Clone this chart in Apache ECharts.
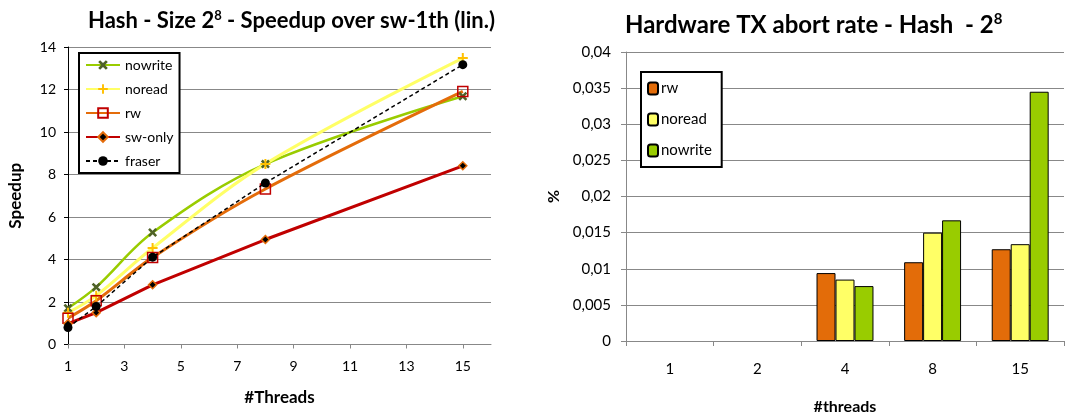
<!DOCTYPE html>
<html>
<head>
<meta charset="utf-8">
<script src="https://cdn.jsdelivr.net/npm/echarts@6/dist/echarts.min.js"></script>
<style>
  html, body { margin: 0; padding: 0; background: #fff; }
  #chart { width: 1084px; height: 414px; }
</style>
</head>
<body>
<div id="chart"></div>
<script>
// speedup chart (left)
var threads = [1, 2, 4, 8, 15];
var nowrite = [1.71, 2.70, 5.27, 8.49, 11.68];
var noread = [1.50, 2.30, 4.54, 8.50, 13.48];
var rw = [1.24, 2.06, 4.10, 7.32, 11.91];
var swOnly = [0.98, 1.50, 2.81, 4.94, 8.41];
var fraser = [0.80, 1.79, 4.11, 7.60, 13.17];

// abort rate chart (right)
var threadCats = ['1', '2', '4', '8', '15'];
var abortRw = [0, 0, 0.0094, 0.0109, 0.0127];
var abortNoread = [0, 0, 0.0085, 0.0150, 0.0134];
var abortNowrite = [0, 0, 0.0076, 0.0167, 0.0345];

var FONT = 'Lato';

function pairs(ys) {
    return threads.map(function (t, i) { return [t, ys[i]]; });
}
// zero-height bars draw nothing in the original
function bars(vals) {
    return vals.map(function (v) { return v === 0 ? '-' : v; });
}

var xPath = 'path://M0,2 L2,0 L5,3 L8,0 L10,2 L7,5 L10,8 L8,10 L5,7 L2,10 L0,8 L3,5 Z';
var plusPath = 'path://M4,0 H6 V4 H10 V6 H6 V10 H4 V6 H0 V4 H4 Z';

var option = {
    animation: false,
    textStyle: { fontFamily: FONT },
    title: [{
        text: '{a|Hash - Size 2}{s|8}{a| - Speedup over sw-1th (lin.)}',
        left: 83, top: 4,
        textStyle: {
            rich: {
                a: { fontFamily: FONT, fontWeight: 'bold', fontSize: 22, color: '#000' },
                s: { fontFamily: FONT, fontWeight: 'bold', fontSize: 13, color: '#000', verticalAlign: 'top', padding: [0, 0, 10, 0] }
            }
        }
    }, {
        text: '{a|Hardware TX abort rate - Hash  - 2}{s|8}',
        left: 620, top: 7,
        textStyle: {
            rich: {
                a: { fontFamily: FONT, fontWeight: 'bold', fontSize: 24, color: '#000' },
                s: { fontFamily: FONT, fontWeight: 'bold', fontSize: 15, color: '#000', verticalAlign: 'top', padding: [0, 0, 12, 0] }
            }
        }
    }],
    legend: [{
        data: ['nowrite', 'noread', 'rw', 'sw-only', 'fraser'],
        orient: 'vertical',
        left: 79, top: 53,
        itemWidth: 34, itemHeight: 12,
        itemGap: 10,
        padding: [5, 6, 5, 6],
        borderColor: '#000', borderWidth: 2,
        backgroundColor: '#fff',
        textStyle: { fontFamily: FONT, fontSize: 14, color: '#000' }
    }, {
        data: ['rw ', 'noread ', 'nowrite '],
        orient: 'vertical',
        left: 641, top: 72,
        itemWidth: 10, itemHeight: 12,
        itemGap: 16,
        padding: [9, 6, 9, 6],
        borderColor: '#000', borderWidth: 2,
        backgroundColor: '#fff',
        textStyle: { fontFamily: FONT, fontSize: 15, color: '#000', padding: [0, 0, 0, -2] }
    }],
    grid: [
        { left: 68, top: 47, width: 423, height: 297.5, outerBoundsMode: 'none' },
        { left: 626, top: 52, width: 438, height: 289, outerBoundsMode: 'none' }
    ],
    xAxis: [{
        gridIndex: 0,
        type: 'value',
        min: 1, max: 16, interval: 2,
        name: '#Threads',
        nameLocation: 'middle', nameGap: 45,
        nameTextStyle: { fontFamily: FONT, fontWeight: 'bold', fontSize: 17, color: '#000' },
        axisLine: { lineStyle: { color: '#888' } },
        axisTick: { show: true, length: 4, lineStyle: { color: '#888' } },
        axisLabel: { color: '#000', fontSize: 14, margin: 15, showMaxLabel: false },
        splitLine: { show: false }
    }, {
        gridIndex: 1,
        type: 'category',
        data: threadCats,
        name: '#threads',
        nameLocation: 'middle', nameGap: 58,
        nameTextStyle: { fontFamily: FONT, fontWeight: 'bold', fontSize: 16, color: '#000' },
        axisLine: { lineStyle: { color: '#888' } },
        axisTick: { show: true, length: 5, lineStyle: { color: '#888' } },
        axisLabel: { color: '#000', fontSize: 15, margin: 21 }
    }],
    yAxis: [{
        gridIndex: 0,
        type: 'value',
        min: 0, max: 14, interval: 2,
        name: 'Speedup',
        nameLocation: 'middle', nameGap: 44,
        nameTextStyle: { fontFamily: FONT, fontWeight: 'bold', fontSize: 17, color: '#000' },
        axisLine: { show: true, lineStyle: { color: '#000' } },
        axisTick: { show: true, length: 4, lineStyle: { color: '#000' } },
        axisLabel: { color: '#000', fontSize: 14, margin: 12 },
        splitLine: { lineStyle: { color: '#888' } }
    }, {
        gridIndex: 1,
        type: 'value',
        min: 0, max: 0.04, interval: 0.005,
        name: '%',
        nameLocation: 'middle', nameGap: 64,
        nameTextStyle: { fontFamily: FONT, fontWeight: 'bold', fontSize: 16, color: '#000' },
        axisLine: { show: true, lineStyle: { color: '#888' } },
        axisTick: { show: true, length: 5, lineStyle: { color: '#888' } },
        axisLabel: {
            color: '#000', fontSize: 15, margin: 15,
            formatter: function (v) { return String(+v.toFixed(3)).replace('.', ','); }
        },
        splitLine: { lineStyle: { color: '#888' } }
    }],
    series: [{
        name: 'nowrite', type: 'line', xAxisIndex: 0, yAxisIndex: 0,
        data: pairs(nowrite), smooth: 0.35,
        symbol: xPath, symbolSize: 9,
        lineStyle: { color: '#99cc00', width: 2.5 },
        itemStyle: { color: '#4f6228' }
    }, {
        name: 'noread', type: 'line', xAxisIndex: 0, yAxisIndex: 0,
        data: pairs(noread), smooth: 0.35,
        symbol: plusPath, symbolSize: 10,
        lineStyle: { color: '#ffff66', width: 3 },
        itemStyle: { color: '#ffc000' }
    }, {
        name: 'rw', type: 'line', xAxisIndex: 0, yAxisIndex: 0,
        data: pairs(rw), smooth: 0.3,
        symbol: 'rect', symbolSize: 10,
        lineStyle: { color: '#e46c0a', width: 3 },
        itemStyle: { color: 'rgba(255,255,255,0)', borderColor: '#c00000', borderWidth: 1.5 }
    }, {
        name: 'sw-only', type: 'line', xAxisIndex: 0, yAxisIndex: 0,
        data: pairs(swOnly),
        symbol: 'diamond', symbolSize: 8,
        lineStyle: { color: '#c00000', width: 3 },
        itemStyle: { color: '#000', borderColor: '#e46c0a', borderWidth: 1.5 }
    }, {
        name: 'fraser', type: 'line', xAxisIndex: 0, yAxisIndex: 0,
        data: pairs(fraser),
        symbol: 'circle', symbolSize: 9,
        lineStyle: { color: '#000', width: 1.5, type: [4, 3] },
        itemStyle: { color: '#000' },
        z: 5
    }, {
        name: 'rw ', type: 'bar', xAxisIndex: 1, yAxisIndex: 1,
        data: bars(abortRw), barGap: '0%', barCategoryGap: '35%',
        itemStyle: { color: '#e36c09', borderColor: '#000', borderWidth: 1 }
    }, {
        name: 'noread ', type: 'bar', xAxisIndex: 1, yAxisIndex: 1,
        data: bars(abortNoread), barGap: '0%', barCategoryGap: '35%',
        itemStyle: { color: '#ffff66', borderColor: '#000', borderWidth: 1 }
    }, {
        name: 'nowrite ', type: 'bar', xAxisIndex: 1, yAxisIndex: 1,
        data: bars(abortNowrite), barGap: '0%', barCategoryGap: '35%',
        itemStyle: { color: '#99cc00', borderColor: '#000', borderWidth: 1 }
    }]
};

var mychart = echarts.init(document.getElementById('chart'));
mychart.setOption(option);
</script>
</body>
</html>
